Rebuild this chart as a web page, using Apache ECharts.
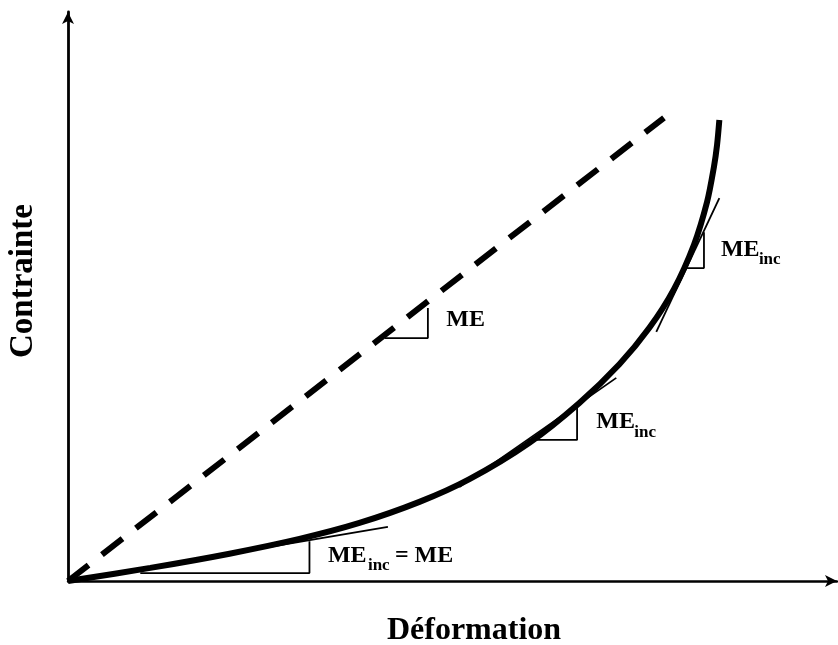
<!DOCTYPE html>
<html>
<head>
<meta charset="utf-8">
<script src="https://cdn.jsdelivr.net/npm/echarts@6/dist/echarts.min.js"></script>
<style>html,body{margin:0;padding:0;background:#fff}#c{width:838px;height:645px}</style>
</head>
<body>
<div id="c"></div>
<script>
// Curve (stress vs strain), arbitrary units 0..100
const curveX = [0, 10.7, 21.0, 30.1, 37.9, 45.7, 52.2, 60.0, 66.5, 71.7, 75.6, 78.8, 81.4, 83.1, 84.0, 84.4, 84.7];
const curveY = [0, 2.3, 4.8, 7.4, 10.2, 13.9, 17.9, 24.3, 31.3, 38.1, 44.5, 51.3, 59.1, 66.6, 72.8, 76.6, 81.0];
// Secant (dashed) line
const secantX = [0, 77.5];
const secantY = [0, 81.4];
// Tangent lines
const tangent1X = [0, 41.6];   const tangent1Y = [0, 9.5];
const tangent2X = [50.9, 71.3]; const tangent2Y = [16.5, 35.7];
const tangent3X = [76.5, 84.7]; const tangent3Y = [43.8, 67.3];
// Slope triangles
const tri1X = [9.4, 31.4, 31.4];   const tri1Y = [1.4, 1.4, 7.0];
const tri2X = [59.7, 66.2, 66.2];  const tri2Y = [24.8, 24.8, 30.9];
const tri3X = [80.5, 82.7, 82.7];  const tri3Y = [55.0, 55.0, 61.3];
const triMEX = [41.2, 46.8, 46.8]; const triMEY = [42.7, 42.7, 48.0];
// Labels
const xTitle = 'Déformation';
const yTitle = 'Contrainte';

const zip = (xs, ys) => xs.map((x, i) => [x, ys[i]]);
const FONT = '"Liberation Serif","Times New Roman",serif';

const chart = echarts.init(document.getElementById('c'));
function thin(xs, ys) {
  return { type: 'line', data: zip(xs, ys), showSymbol: false, silent: true,
    lineStyle: { color: '#000', width: 1.8 } };
}
chart.setOption({
  animation: false,
  grid: { left: 68, right: 1, top: 12, bottom: 64 },
  xAxis: { type: 'value', min: 0, max: 100,
    axisLine: { show: true, onZero: false, symbol: ['none', 'arrow'], symbolSize: [9, 12], lineStyle: { color: '#000', width: 2.5 } },
    axisTick: { show: false }, axisLabel: { show: false }, splitLine: { show: false } },
  yAxis: { type: 'value', min: 0, max: 100,
    axisLine: { show: true, onZero: false, symbol: ['none', 'arrow'], symbolSize: [9, 12], lineStyle: { color: '#000', width: 2.8 } },
    axisTick: { show: false }, axisLabel: { show: false }, splitLine: { show: false } },
  series: [
    { type: 'line', data: zip(secantX, secantY), showSymbol: false,
      lineStyle: { color: '#000', width: 6, type: [26, 17], cap: 'butt' } },
    thin(tangent1X, tangent1Y), thin(tangent2X, tangent2Y), thin(tangent3X, tangent3Y),
    thin(tri1X, tri1Y), thin(tri2X, tri2Y), thin(tri3X, tri3Y), thin(triMEX, triMEY),
    { type: 'line', data: zip(curveX, curveY), showSymbol: false, smooth: 0.3,
      lineStyle: { color: '#000', width: 6 } }
  ]
});

// Annotation anchors (data units) with pixel offsets for sub-parts
const annots = [
  { at: [49.2, 45.9], parts: [['ME', 0, 0, 24]] },
  { at: [68.7, 27.9], parts: [['ME', 0, 0, 24], ['inc', 38, 10, 17]] },
  { at: [84.9, 58.2], parts: [['ME', 0, 0, 24], ['inc', 38, 10, 17]] },
  { at: [33.8, 4.4],  parts: [['ME', 0, 0, 24], ['inc', 40, 10, 17], ['= ME', 67, 0, 24]] }
];
const g = [];
annots.forEach(a => {
  const p = chart.convertToPixel({ gridIndex: 0 }, a.at);
  a.parts.forEach(([t, dx, dy, fs]) => {
    g.push({ type: 'text', x: p[0] + dx, y: p[1] + dy, silent: true,
      style: { text: t, fill: '#000', font: 'bold ' + fs + 'px ' + FONT, align: 'left', verticalAlign: 'middle' } });
  });
});
g.push({ type: 'text', x: 474, y: 631, style: { text: xTitle, fill: '#000', font: 'bold 32px ' + FONT, align: 'center', verticalAlign: 'middle' } });
g.push({ type: 'text', x: 23, y: 281, rotation: Math.PI / 2, style: { text: yTitle, fill: '#000', font: 'bold 33px ' + FONT, align: 'center', verticalAlign: 'middle' } });
chart.setOption({ graphic: g });
</script>
</body>
</html>
